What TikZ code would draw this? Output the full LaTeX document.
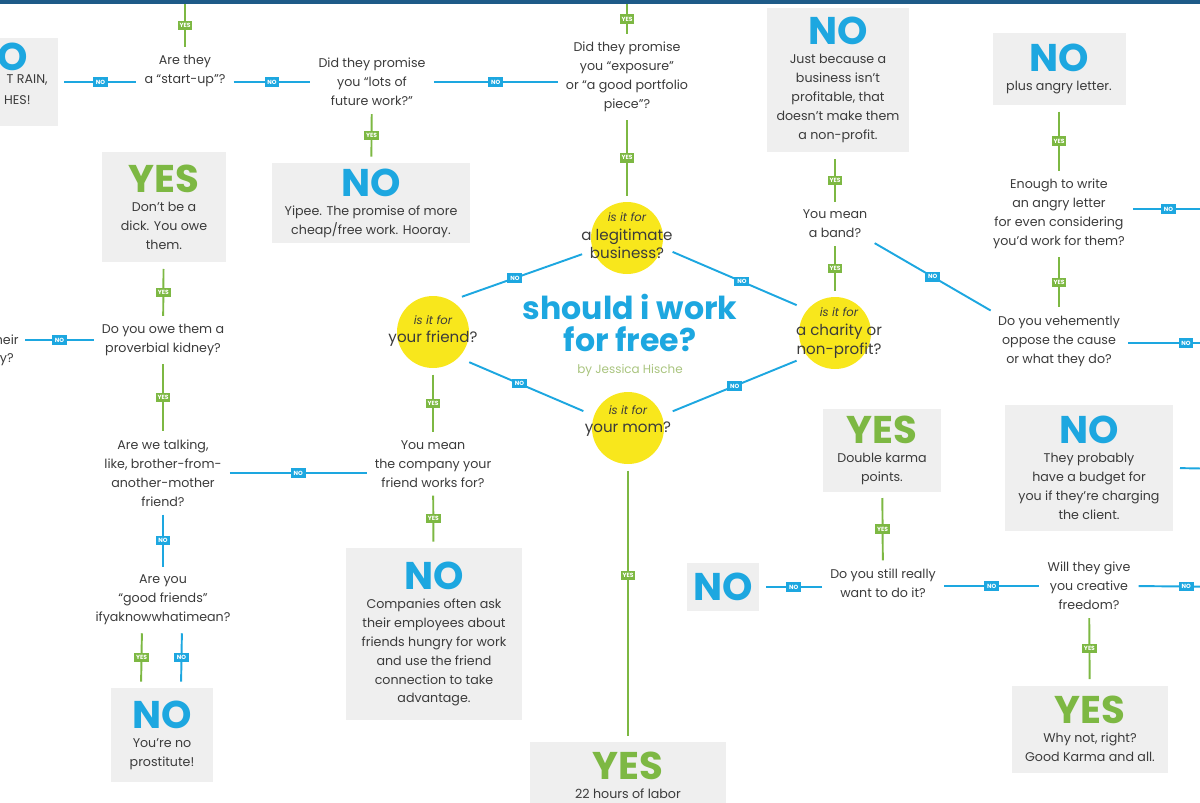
\documentclass[tikz,border=0pt]{standalone}
\usepackage{fontspec}
\setmainfont{Poppins}
\usepackage{tikz}

\definecolor{noblue}{HTML}{1DA7E0}
\definecolor{yesgreen}{HTML}{7DB843}
\definecolor{dotyellow}{HTML}{F8E71C}
\definecolor{boxgray}{HTML}{EFEFEF}
\definecolor{inkgray}{HTML}{3B3B3B}
\definecolor{topblue}{HTML}{1E5B88}
\definecolor{bygreen}{HTML}{A9C47E}

\newcommand{\bigno}{{\fontsize{22}{22}\selectfont\bfseries\color{noblue}NO}}
\newcommand{\bigyes}{{\fontsize{22}{22}\selectfont\bfseries\color{yesgreen}YES}}
\newcommand{\isitfor}{{\fontsize{6.6}{6.6}\selectfont\itshape is it for}}

\tikzset{
ask/.style={align=center,text=inkgray,font=\fontsize{7.2}{10.8}\selectfont,inner sep=1pt},
answer/.style={ask,fill=boxgray,inner sep=0pt},
edgebit/.style={ask,anchor=east,inner sep=0pt},
dot/.style={circle,fill=dotyellow,minimum size=1.44cm,inner sep=0pt},
dottext/.style={align=center,text=inkgray,font=\fontsize{8.6}{10.6}\selectfont},
title/.style={align=center,text=noblue,font=\fontsize{18}{18.7}\selectfont\bfseries},
byline/.style={text=bygreen,font=\fontsize{6.8}{7}\selectfont},
yesline/.style={draw=yesgreen,line width=1.1pt,shorten <=3.5pt,shorten >=3.5pt},
noline/.style={draw=noblue,line width=1.1pt,shorten <=3.5pt,shorten >=3.5pt},
dotline/.style={noline,shorten <=6.5pt,shorten >=6.5pt},
yestag/.style={fill=yesgreen,text=white,font=\fontsize{3.4}{3.4}\selectfont\bfseries,inner sep=0.5pt,minimum width=8.5pt,minimum height=5.4pt},
notag/.style={yestag,fill=noblue}
}

\begin{document}
\begin{tikzpicture}[x=0.02cm,y=-0.02cm]
\useasboundingbox (0,0) rectangle (1200,802);
\clip (0,0) rectangle (1200,802);
\fill[topblue] (0,0) rectangle (1200,4);

\node[answer,minimum width=2.36cm,minimum height=1.76cm] (leftno) at (-1,82) {};
\node[inner sep=0pt] (leftnohead) at (-2,57) {\bigno};
\node[edgebit] (rainbit) at (48,80) {T RAIN,};
\node[edgebit] (hesbit) at (31,100) {HES!};
\node[ask] (startup) at (185,71) {Are they\\a “start-up”?};
\node[ask] (future) at (372,82) {Did they promise\\you “lots of\\future work?”};
\node[ask] (exposure) at (627,77) {Did they promise\\you “exposure”\\or “a good portfolio\\piece”?};
\node[answer,minimum width=3.96cm,minimum height=1.6cm] (yipee) at (371,203) {\bigno\\Yipee. The promise of more\\cheap/free work. Hooray.};
\node[answer,minimum width=2.86cm,minimum height=2.9cm] (notprofit) at (838,80) {\bigno\\Just because a\\business isn’t\\profitable, that\\doesn’t make them\\a non-profit.};
\node[answer,minimum width=2.66cm,minimum height=1.44cm] (letterno) at (1059,69) {\bigno\\plus angry letter.};
\node[ask] (band) at (835,224) {You mean\\a band?};
\node[ask] (letter) at (1059,214) {Enough to write\\an angry letter\\for even considering\\you’d work for them?};
\node[ask] (oppose) at (1059,341) {Do you vehemently\\oppose the cause\\or what they do?};

\node[dot] (legit) at (627,238) {};
\node[dottext] (legitq) at (627,236) {\isitfor\\a legitimate\\business?};
\node[dot] (friend) at (433,332) {};
\node[dottext] (friendq) at (433,331) {\isitfor\\your friend?};
\node[dot] (charity) at (835,333) {};
\node[dottext] (charityq) at (839,333) {\isitfor\\a charity or\\non-profit?};
\node[dot] (mom) at (628,428) {};
\node[dottext] (momq) at (628,421) {\isitfor\\your mom?};
\node[title] (title) at (630,323) {should i work\\for free?};
\node[byline] (byline) at (630,370) {by Jessica Hische};

\node[answer,minimum width=2.48cm,minimum height=2.22cm] (dick) at (164,207) {\bigyes\\Don’t be a\\dick. You owe\\them.};
\node[ask] (kidney) at (163,340) {Do you owe them a\\proverbial kidney?};
\node[edgebit] (heirbit) at (19,340) {heir};
\node[edgebit] (ybit) at (14,360) {y?};
\node[ask] (brother) at (163,473) {Are we talking,\\like, brother-from-\\another-mother\\friend?};
\node[ask] (goodfr) at (163,600) {Are you\\“good friends”\\ifyaknowwhatimean?};
\node[answer,minimum width=2.04cm,minimum height=1.88cm] (prost) at (162,735) {\bigno\\You’re no\\prostitute!};

\node[ask] (company) at (433,464) {You mean\\the company your\\friend works for?};
\node[answer,minimum width=3.54cm,minimum height=3.44cm] (compno) at (434,634) {\bigno\\Companies often ask\\their employees about\\friends hungry for work\\and use the friend\\connection to take\\advantage.};
\node[answer,minimum width=3.94cm,minimum height=1.32cm] (labor) at (628,775) {\bigyes\\22 hours of labor};

\node[answer,minimum width=2.36cm,minimum height=1.66cm] (karma) at (882,450) {\bigyes\\Double karma\\points.};
\node[ask] (still) at (883,583) {Do you still really\\want to do it?};
\node[answer,minimum width=1.44cm,minimum height=0.96cm] (bareno) at (723,587) {\bigno};
\node[ask] (freedom) at (1089,586) {Will they give\\you creative\\freedom?};
\node[answer,minimum width=3.38cm,minimum height=2.54cm] (budget) at (1089,468) {\bigno\\They probably\\have a budget for\\you if they’re charging\\the client.};
\node[answer,minimum width=3.12cm,minimum height=1.74cm] (whynot) at (1090,729) {\bigyes\\Why not, right?\\Good Karma and all.};

\coordinate (startuptop) at (185,-2);
\coordinate (exposuretop) at (627,-2);
\coordinate (letterend) at (1210,209);
\coordinate (opposeend) at (1250,343);
\coordinate (budgetend) at (1230,469);
\coordinate (freedomend) at (1240,587);

\draw[yesline] (startuptop) -- node[yestag]{YES} (startup);
\draw[yesline] (exposuretop) -- node[yestag]{YES} (exposure);
\draw[yesline] (future) -- node[yestag]{YES} (yipee);
\draw[yesline] (exposure) -- node[yestag]{YES} (legit);
\draw[yesline] (band |- notprofit.south) -- node[yestag]{YES} (band);
\draw[yesline] (band) -- node[yestag]{YES} (charity);
\draw[yesline] (letterno) -- node[yestag]{YES} (letter);
\draw[yesline] (letter) -- node[yestag]{YES} (oppose);
\draw[yesline] (dick) -- node[yestag]{YES} (kidney);
\draw[yesline] (kidney) -- node[yestag]{YES} (brother);
\draw[yesline] (friend) -- node[yestag]{YES} (company);
\draw[yesline] (company) -- node[yestag]{YES} (compno);
\draw[yesline] (mom) -- node[yestag,pos=0.4]{YES} (labor);
\draw[yesline] (karma) -- node[yestag]{YES} (still);
\draw[yesline] (freedom) -- node[yestag]{YES} (whynot);
\draw[yesline] ([xshift=-0.42cm]goodfr.south) -- node[yestag]{YES} ([xshift=-0.42cm]prost.north);

\draw[noline] (leftno.east) -- node[notag]{NO} (leftno.east -| startup.west);
\draw[noline] (future.west -| startup.east) -- node[notag]{NO} (future.west);
\draw[noline] (future.east) -- node[notag]{NO} (future.east -| exposure.west);
\draw[noline] (kidney.west) -- node[notag]{NO} (kidney.west -| heirbit.east);
\draw[noline] (brother.east) -- node[notag]{NO} (brother.east -| company.west);
\draw[noline] (brother) -- node[notag]{NO} (goodfr);
\draw[noline] ([xshift=0.38cm]goodfr.south) -- node[notag]{NO} ([xshift=0.38cm]prost.north);
\draw[noline] (band.south east) -- node[notag]{NO} (oppose.north west);
\draw[noline] (letter.east |- letterend) -- node[notag]{NO} (letterend);
\draw[noline] (oppose.east |- opposeend) -- node[notag]{NO} (opposeend);
\draw[noline] (budget.east) -- (budgetend);
\draw[noline] (bareno.east -| still.west) -- node[notag]{NO} (bareno.east);
\draw[noline] (freedom.west -| still.east) -- node[notag]{NO} (freedom.west);
\draw[noline] (freedom.east) -- node[notag]{NO} (freedomend);

\draw[dotline] (friend.60) -- node[notag,pos=0.45]{NO} (legit.200);
\draw[dotline] (legit.-15) -- node[notag,pos=0.55]{NO} (charity.140);
\draw[dotline] (friend.-45) -- node[notag,pos=0.45]{NO} (mom.160);
\draw[dotline] (charity.220) -- node[notag]{NO} (mom.20);
\end{tikzpicture}
\end{document}
